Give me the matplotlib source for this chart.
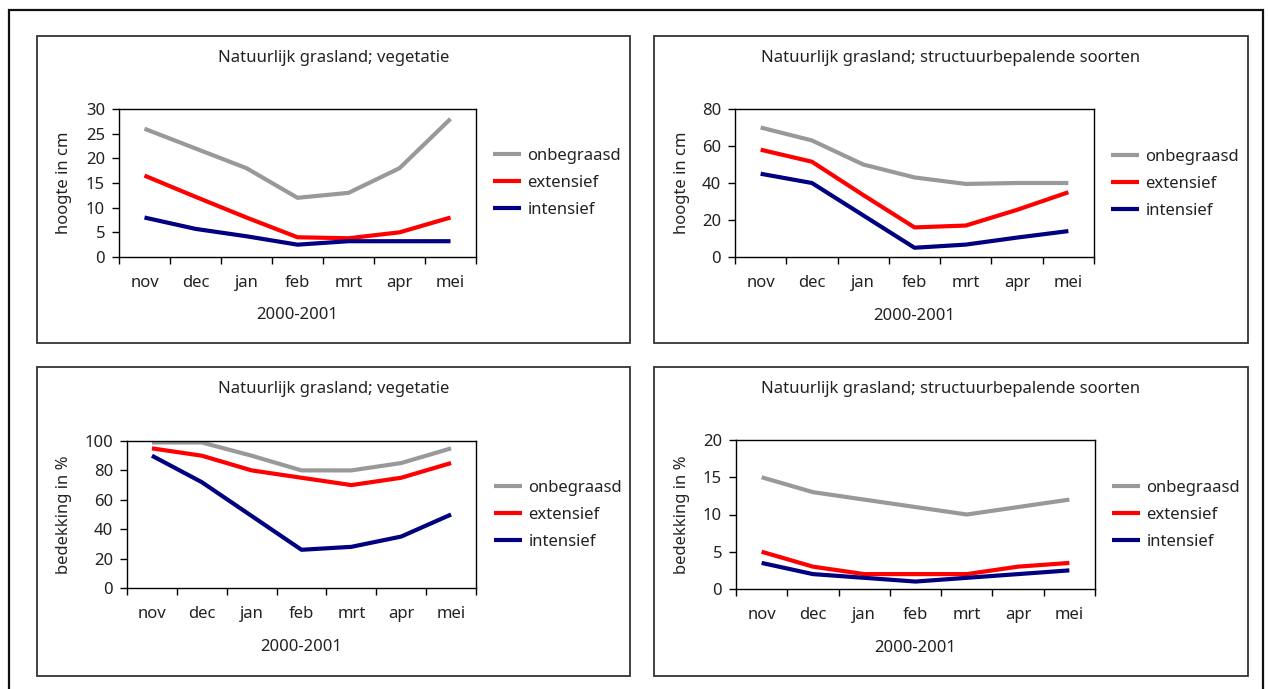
import matplotlib
matplotlib.use("Agg")
import matplotlib.pyplot as plt
from matplotlib.patches import Rectangle
from matplotlib.ticker import FixedLocator, NullFormatter, FixedFormatter

plt.rcParams['font.family'] = ['Noto Sans', 'DejaVu Sans']

W, H = 1268, 689

months = ["nov", "dec", "jan", "feb", "mrt", "apr", "mei"]
series_names = ["onbegraasd", "extensief", "intensief"]
series_colors = ["#999999", "#ff0000", "#000080"]

# hoogte, vegetatie
veg_height_onbegraasd = [26, 22, 18, 12, 13, 18, 28]
veg_height_extensief = [16.5, 12.2, 8, 4, 3.8, 5, 8]
veg_height_intensief = [8, 5.7, 4.2, 2.5, 3.2, 3.2, 3.2]

# hoogte, structuurbepalende soorten
str_height_onbegraasd = [70, 63, 50, 43, 39.5, 40, 40]
str_height_extensief = [58, 51.5, 33.5, 16, 17, 25.5, 35]
str_height_intensief = [45, 40, 22.5, 5, 6.7, 10.5, 14]

# bedekking, vegetatie
veg_cover_onbegraasd = [99, 99, 90, 80, 80, 85, 95]
veg_cover_extensief = [95, 90, 80, 75, 70, 75, 85]
veg_cover_intensief = [90, 72, 49, 26, 28, 35, 50]

# bedekking, structuurbepalende soorten
str_cover_onbegraasd = [15, 13, 12, 11, 10, 11, 12]
str_cover_extensief = [5, 3, 2, 2, 2, 3, 3.5]
str_cover_intensief = [3.5, 2, 1.5, 1, 1.5, 2, 2.5]

title_veg = "Natuurlijk grasland; vegetatie"
title_str = "Natuurlijk grasland; structuurbepalende soorten"
xlabel_text = "2000-2001"

# frame and axes boxes are given in pixels (left, top, right, bottom)
panels = [
    dict(frame=(37, 36, 630, 343), axes=(119, 109, 476, 257), title=title_veg,
         ylabel="hoogte in cm", yticks=[0, 5, 10, 15, 20, 25, 30],
         data=[veg_height_onbegraasd, veg_height_extensief, veg_height_intensief],
         legend=(493, 183), title_y=58, ylabel_x=64, xlabel_y=315),
    dict(frame=(654, 36, 1248, 343), axes=(735, 109, 1094, 257), title=title_str,
         ylabel="hoogte in cm", yticks=[0, 20, 40, 60, 80],
         data=[str_height_onbegraasd, str_height_extensief, str_height_intensief],
         legend=(1111, 184), title_y=58, ylabel_x=682, xlabel_y=316),
    dict(frame=(37, 367, 630, 676), axes=(127, 441, 476, 588), title=title_veg,
         ylabel="bedekking in %", yticks=[0, 20, 40, 60, 80, 100],
         data=[veg_cover_onbegraasd, veg_cover_extensief, veg_cover_intensief],
         legend=(494, 515), title_y=389, ylabel_x=64, xlabel_y=647),
    dict(frame=(654, 367, 1248, 676), axes=(736, 440, 1095, 589), title=title_str,
         ylabel="bedekking in %", yticks=[0, 5, 10, 15, 20],
         data=[str_cover_onbegraasd, str_cover_extensief, str_cover_intensief],
         legend=(1112, 515), title_y=389, ylabel_x=682, xlabel_y=648),
]

FS = 12
TXT = "#222222"


def fx(x):
    return x / W


def fy(y):
    return 1 - y / H


fig = plt.figure(figsize=(W / 100, H / 100), dpi=100)
fig.patch.set_facecolor("white")

# outer frame (its lower edge runs past the bottom of the canvas)
fig.patches.append(Rectangle((fx(9), fy(700)), fx(1263) - fx(9), fy(10) - fy(700),
                             transform=fig.transFigure, fill=False,
                             edgecolor="#111111", linewidth=1.6))

for p in panels:
    x0, y0, x1, y1 = p["frame"]
    fig.patches.append(Rectangle((fx(x0), fy(y1)), fx(x1) - fx(x0), fy(y0) - fy(y1),
                                 transform=fig.transFigure, fill=False,
                                 edgecolor="#333333", linewidth=1.3))
    ax0, ay0, ax1, ay1 = p["axes"]
    ax = fig.add_axes([fx(ax0), fy(ay1), fx(ax1) - fx(ax0), fy(ay0) - fy(ay1)])
    xs = list(range(len(months)))
    for vals, name, col in zip(p["data"], series_names, series_colors):
        ax.plot(xs, vals, color=col, linewidth=3.0, label=name,
                solid_joinstyle="round", solid_capstyle="butt")
    ax.set_xlim(-0.5, len(months) - 0.5)
    ax.set_ylim(p["yticks"][0], p["yticks"][-1])
    ax.set_yticks(p["yticks"])
    ax.set_yticklabels([str(t) for t in p["yticks"]])
    # category boundaries carry the tick marks, category centres carry the labels
    ax.xaxis.set_major_locator(FixedLocator([i - 0.5 for i in range(len(months) + 1)]))
    ax.xaxis.set_major_formatter(NullFormatter())
    ax.xaxis.set_minor_locator(FixedLocator(xs))
    ax.xaxis.set_minor_formatter(FixedFormatter(months))
    ax.tick_params(axis="x", which="major", direction="out", length=5, width=1.0, color="black")
    ax.tick_params(axis="x", which="minor", length=0, pad=13, labelsize=FS, labelcolor=TXT)
    ax.tick_params(axis="y", direction="out", length=5, width=1.0, pad=5,
                   labelsize=FS, labelcolor=TXT, color="black")
    for s in ax.spines.values():
        s.set_linewidth(1.0)
        s.set_color("black")
    ax.set_xlabel(xlabel_text, fontsize=FS, color=TXT, va="center")
    ax.xaxis.set_label_coords(0.5, (ay1 - p["xlabel_y"]) / (ay1 - ay0))
    ax.set_ylabel(p["ylabel"], fontsize=FS, color=TXT, va="center", ha="center")
    ax.yaxis.set_label_coords((p["ylabel_x"] - ax0) / (ax1 - ax0), 0.5)
    fig.text(fx((x0 + x1) / 2), fy(p["title_y"]), p["title"], fontsize=FS,
             color=TXT, ha="center", va="center")
    lx, ly = p["legend"]
    ax.legend(loc="center left", bbox_to_anchor=(fx(lx), fy(ly)),
              bbox_transform=fig.transFigure, frameon=False, fontsize=FS,
              borderpad=0, borderaxespad=0, handlelength=1.7, handletextpad=0.36,
              labelspacing=0.66, labelcolor=TXT)

fig.savefig("out.png", dpi=100, facecolor="white")
